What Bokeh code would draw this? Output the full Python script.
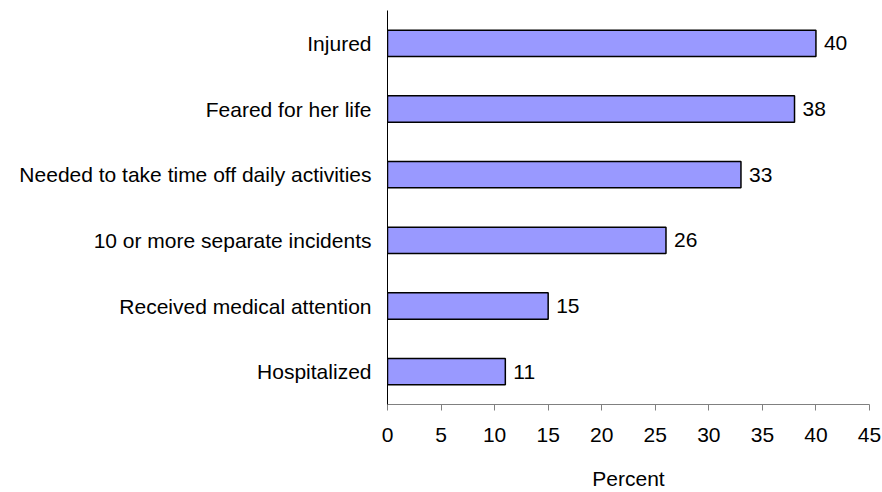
from bokeh.plotting import figure
from bokeh.models import ColumnDataSource, FactorRange, Range1d, FixedTicker
from bokeh.core.properties import value
from bokeh.embed import file_html
from bokeh.resources import INLINE

categories = ["Injured", "Feared for her life", "Needed to take time off daily activities",
              "10 or more separate incidents", "Received medical attention", "Hospitalized"]
percent = [40, 38, 33, 26, 15, 11]
x_ticks = [0, 5, 10, 15, 20, 25, 30, 35, 40, 45]

FONT = "Liberation Sans"
FS = "21px"

src = ColumnDataSource(dict(cat=categories, val=percent, lab=[str(v) for v in percent]))

p = figure(width=882, height=492, output_backend="svg", toolbar_location=None,
           y_range=FactorRange(factors=list(reversed(categories))),
           x_range=Range1d(0, 45),
           min_border_left=387, min_border_right=13, min_border_top=10, min_border_bottom=88)

p.hbar(y="cat", right="val", left=0, height=0.4, source=src,
       fill_color="#9999FF", line_color="black", line_width=1.5)
p.text(x="val", y="cat", text="lab", source=src, x_offset=8,
       text_baseline="middle", text_align="left",
       text_font=value(FONT), text_font_size=FS, text_color="black")

p.outline_line_color = None
p.xgrid.grid_line_color = None
p.ygrid.grid_line_color = None
p.background_fill_color = "white"
p.border_fill_color = "white"

xa = p.xaxis[0]
xa.ticker = FixedTicker(ticks=x_ticks)
xa.axis_line_color = "#808080"
xa.major_tick_line_color = "#808080"
xa.major_tick_out = 6
xa.major_tick_in = 0
xa.minor_tick_line_color = None
xa.major_label_text_font = FONT
xa.major_label_text_font_size = FS
xa.major_label_text_color = "black"
xa.major_label_standoff = 17
xa.axis_label = "Percent"
xa.axis_label_text_font = FONT
xa.axis_label_text_font_size = FS
xa.axis_label_text_font_style = "normal"
xa.axis_label_text_color = "black"
xa.axis_label_standoff = 22

ya = p.yaxis[0]
ya.axis_line_color = "black"
ya.major_tick_line_color = None
ya.minor_tick_line_color = None
ya.major_tick_out = 0
ya.major_tick_in = 0
ya.major_label_text_font = FONT
ya.major_label_text_font_size = FS
ya.major_label_text_color = "black"
ya.major_label_standoff = 16

open("out.html", "w").write(file_html(p, INLINE))
